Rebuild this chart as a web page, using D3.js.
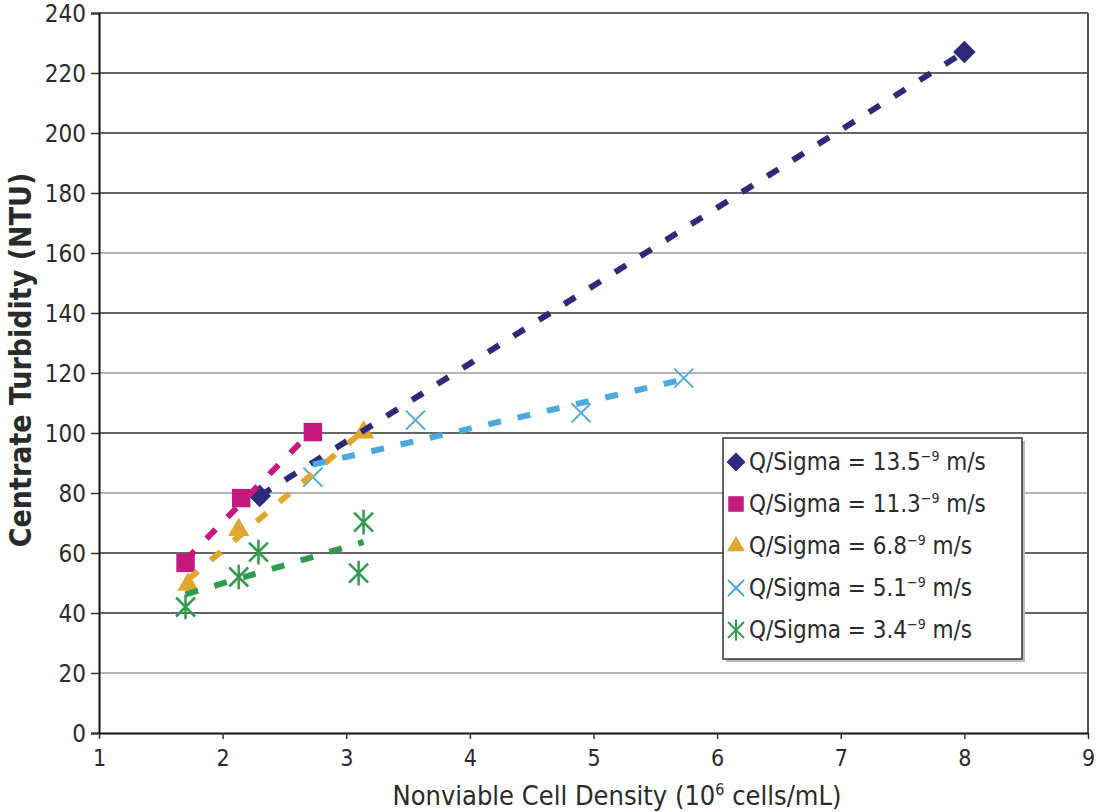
<!DOCTYPE html>
<html>
<head>
<meta charset="utf-8">
<script src="https://cdn.jsdelivr.net/npm/d3@7"></script>
<style>
  body { margin: 0; background: #fff; }
  svg text { font-family: "Liberation Sans Narrow", "DejaVu Sans Condensed", "Open Sans", sans-serif; fill: #2a2a2a; }
</style>
</head>
<body>
<svg id="chart" width="1097" height="812"></svg>
<script>
// data
var seriesLabels = ["13.5", "11.3", "6.8", "5.1", "3.4"];
var seriesColors = ["#2d2a7c", "#c4197d", "#e0a72f", "#4aa9dd", "#2f9c4c"];
var seriesShapes = ["diamond", "square", "triangle", "x", "star"];

var xQ135 = [2.3, 8.0];
var yQ135 = [79, 227];
var xQ113 = [1.70, 2.15, 2.73];
var yQ113 = [56.7, 78.3, 100.3];
var xQ68 = [1.72, 2.13, 3.14];
var yQ68 = [49.5, 67.7, 100.2];
var xQ51 = [2.73, 3.56, 4.90, 5.73];
var yQ51 = [85.3, 104.3, 106.7, 118.3];
var xQ34 = [1.70, 2.13, 2.29, 3.10, 3.14];
var yQ34 = [42, 52, 60.3, 53.3, 70.3];

var xTicks = [1, 2, 3, 4, 5, 6, 7, 8, 9];
var yTicks = [0, 20, 40, 60, 80, 100, 120, 140, 160, 180, 200, 220, 240];
var darkGrid = [0, 40, 60, 100, 140, 180, 200, 220, 240];

var xs = [xQ135, xQ113, xQ68, xQ51, xQ34];
var ys = [yQ135, yQ113, yQ68, yQ51, yQ34];

var svg = d3.select("#chart");
var plotL = 99, plotR = 1088, plotT = 13, plotB = 733;

var x = d3.scaleLinear().domain([1, 9]).range([plotL, plotR]);
var y = d3.scaleLinear().domain([0, 240]).range([plotB, plotT]);

// gridlines
svg.append("g").selectAll("line")
    .data(yTicks.filter(function (d) { return d > 0; }))
    .enter().append("line")
    .attr("x1", plotL).attr("x2", plotR)
    .attr("y1", function (d) { return y(d); })
    .attr("y2", function (d) { return y(d); })
    .attr("stroke", function (d) { return darkGrid.indexOf(d) >= 0 ? "#333" : "#9a9a9a"; })
    .attr("stroke-width", 1.5);

// right border
svg.append("line")
    .attr("x1", plotR).attr("x2", plotR).attr("y1", plotT).attr("y2", plotB)
    .attr("stroke", "#555").attr("stroke-width", 2);

// y axis
var yAxis = svg.append("g")
    .attr("transform", "translate(" + plotL + ",0)")
    .call(d3.axisLeft(y).tickValues(yTicks).tickSize(8).tickPadding(5));
yAxis.selectAll("text").style("font-size", "24px").attr("dy", "0.35em");

// x axis
var xAxis = svg.append("g")
    .attr("transform", "translate(0," + plotB + ")")
    .call(d3.axisBottom(x).tickValues(xTicks).tickSizeInner(6).tickSizeOuter(0).tickPadding(11));
xAxis.selectAll("text").style("font-size", "23px");

svg.selectAll(".domain").attr("stroke", "#111").attr("stroke-width", 2);
svg.selectAll(".tick line").attr("stroke", "#333").attr("stroke-width", 1.5);

// axis titles
svg.append("text")
    .attr("x", 617).attr("y", 805)
    .attr("text-anchor", "middle")
    .style("font-size", "27px")
    .html('Nonviable Cell Density (10<tspan dy="-10" style="font-size:16px">6</tspan><tspan dy="10"> cells/mL)</tspan>');

svg.append("text")
    .attr("transform", "translate(31,360) rotate(-90)")
    .attr("text-anchor", "middle")
    .style("font-size", "30px")
    .style("font-weight", "bold")
    .text("Centrate Turbidity (NTU)");

// marker shapes
var symbolPath = function (shape, s) {
    if (shape == "diamond") return d3.symbol().type(d3.symbolDiamond2).size(s * s * 0.9)();
    if (shape == "square") return d3.symbol().type(d3.symbolSquare2).size(s * s * 1.2)();
    if (shape == "triangle") return d3.symbol().type(d3.symbolTriangle2).size(s * s * 0.9)();
    var r = s / 2;
    if (shape == "x") return "M" + (-r) + "," + (-r) + "L" + r + "," + r + "M" + (-r) + "," + r + "L" + r + "," + (-r);
    // star: x plus vertical bar
    return "M" + (-r) + "," + (-r) + "L" + r + "," + r + "M" + (-r) + "," + r + "L" + r + "," + (-r) +
        "M0," + (-r * 1.3) + "L0," + (r * 1.3);
};
var isStroked = function (shape) { return shape == "x" || shape == "star"; };

// linear trend line from points
var fitLine = function (xv, yv) {
    let mx = d3.mean(xv), my = d3.mean(yv);
    let sxy = d3.sum(xv, function (d, i) { return (d - mx) * (yv[i] - my); });
    let sxx = d3.sum(xv, function (d) { return (d - mx) * (d - mx); });
    let b = sxy / sxx, a = my - b * mx;
    let x0 = d3.min(xv), x1 = d3.max(xv);
    return [[x0, a + b * x0], [x1, a + b * x1]];
};

// markers
xs.forEach(function (xv, k) {
    let shape = seriesShapes[k];
    let pts = xv.map(function (d, i) { return [d, ys[k][i]]; });
    svg.append("g").selectAll("path")
        .data(pts).enter().append("path")
        .attr("transform", function (d) { return "translate(" + x(d[0]) + "," + y(d[1]) + ")"; })
        .attr("d", symbolPath(shape, 19))
        .attr("fill", isStroked(shape) ? "none" : seriesColors[k])
        .attr("stroke", isStroked(shape) ? seriesColors[k] : "none")
        .attr("stroke-width", shape == "star" ? 2.5 : 2);
});

// dashed trend lines
var line = d3.line().x(function (d) { return x(d[0]); }).y(function (d) { return y(d[1]); });
xs.forEach(function (xv, k) {
    svg.append("path")
        .attr("d", line(fitLine(xv, ys[k])))
        .attr("fill", "none")
        .attr("stroke", seriesColors[k])
        .attr("stroke-width", 6)
        .attr("stroke-dasharray", "13,17");
});

// legend
var lg = svg.append("g").attr("transform", "translate(723,438)");
lg.append("rect").attr("x", 3).attr("y", 3).attr("width", 299).attr("height", 221).attr("fill", "#bbb");
lg.append("rect").attr("width", 299).attr("height", 221)
    .attr("fill", "#fff").attr("stroke", "#333").attr("stroke-width", 1.5);

seriesLabels.forEach(function (lab, k) {
    let cy = 24 + k * 42;
    let shape = seriesShapes[k];
    lg.append("path")
        .attr("transform", "translate(13," + cy + ")")
        .attr("d", symbolPath(shape, 16))
        .attr("fill", isStroked(shape) ? "none" : seriesColors[k])
        .attr("stroke", isStroked(shape) ? seriesColors[k] : "none")
        .attr("stroke-width", 2);
    lg.append("text")
        .attr("x", 26).attr("y", cy + 8)
        .style("font-size", "24px")
        .html("Q/Sigma = " + lab + '<tspan dy="-9" style="font-size:14px">\u2212\u0039</tspan><tspan dy="9"> m/s</tspan>');
});
</script>
</body>
</html>
